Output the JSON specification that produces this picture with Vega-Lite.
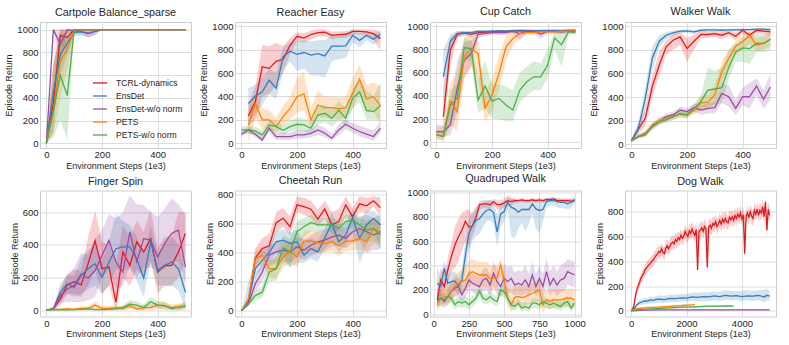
{
"$schema": "https://vega.github.io/schema/vega-lite/v6.json",
"padding": {"left": 4, "top": 5, "right": 0, "bottom": 0},
"background": "white",
"columns": 4,
"bounds": "flush",
"spacing": {"row": 42.5, "column": 44},
"resolve": {"scale": {"x": "independent", "y": "independent", "color": "independent"}, "legend": {"color": "independent"}},
"config": {
"font": "Liberation Sans",
"view": {"stroke": "#cccccc", "strokeWidth": 1},
"axis": {"grid": true, "gridColor": "#dddddd", "gridWidth": 1, "domain": false, "ticks": false, "labelOverlap": false, "labelFontSize": 9.5, "labelColor": "#262626", "labelPadding": 2, "titleFontSize": 9, "titleFontWeight": "normal", "titleColor": "#262626", "titlePadding": 3, "labelFont": "Liberation Sans", "titleFont": "Liberation Sans"},
"axisX": {"labelPadding": 1.5, "titlePadding": 2},
"title": {"fontSize": 10.8, "fontWeight": "normal", "color": "#262626", "offset": 4, "font": "Liberation Sans"},
"line": {"strokeWidth": 1.3, "clip": true},
"area": {"opacity": 0.22, "clip": true}
},
"datasets": {
"cp": [
{"s":"T","x":0,"y":0,"l":0,"h":0},{"s":"T","x":25,"y":350,"l":100,"h":700},{"s":"T","x":50,"y":950,"l":850,"h":1000},{"s":"T","x":75,"y":930,"l":820,"h":1000},{"s":"T","x":100,"y":1000,"l":985,"h":1000},{"s":"T","x":125,"y":1000,"l":1000,"h":1000},{"s":"T","x":200,"y":1000,"l":1000,"h":1000},{"s":"T","x":300,"y":1000,"l":1000,"h":1000},{"s":"T","x":400,"y":1000,"l":1000,"h":1000},{"s":"T","x":500,"y":1000,"l":1000,"h":1000},
{"s":"E","x":0,"y":0,"l":0,"h":0},{"s":"E","x":25,"y":450,"l":250,"h":700},{"s":"E","x":50,"y":780,"l":600,"h":950},{"s":"E","x":75,"y":880,"l":780,"h":980},{"s":"E","x":100,"y":975,"l":940,"h":1000},{"s":"E","x":125,"y":980,"l":950,"h":1000},{"s":"E","x":150,"y":965,"l":930,"h":1000},{"s":"E","x":175,"y":985,"l":960,"h":1000},{"s":"E","x":200,"y":1000,"l":1000,"h":1000},{"s":"E","x":300,"y":1000,"l":1000,"h":1000},{"s":"E","x":400,"y":1000,"l":1000,"h":1000},{"s":"E","x":500,"y":1000,"l":1000,"h":1000},
{"s":"N","x":0,"y":0,"l":0,"h":0},{"s":"N","x":25,"y":1000,"l":1000,"h":1000},{"s":"N","x":50,"y":870,"l":700,"h":1000},{"s":"N","x":75,"y":1000,"l":980,"h":1000},{"s":"N","x":100,"y":990,"l":960,"h":1000},{"s":"N","x":125,"y":985,"l":960,"h":1000},{"s":"N","x":150,"y":970,"l":930,"h":1000},{"s":"N","x":175,"y":985,"l":950,"h":1000},{"s":"N","x":200,"y":1000,"l":1000,"h":1000},{"s":"N","x":300,"y":1000,"l":1000,"h":1000},{"s":"N","x":400,"y":1000,"l":1000,"h":1000},{"s":"N","x":500,"y":1000,"l":1000,"h":1000},
{"s":"P","x":0,"y":0,"l":0,"h":0},{"s":"P","x":25,"y":290,"l":80,"h":700},{"s":"P","x":50,"y":720,"l":400,"h":1000},{"s":"P","x":75,"y":830,"l":650,"h":1000},{"s":"P","x":100,"y":1000,"l":980,"h":1000},{"s":"P","x":125,"y":1000,"l":1000,"h":1000},{"s":"P","x":200,"y":1000,"l":1000,"h":1000},{"s":"P","x":300,"y":1000,"l":1000,"h":1000},{"s":"P","x":400,"y":1000,"l":1000,"h":1000},{"s":"P","x":500,"y":1000,"l":1000,"h":1000},
{"s":"G","x":0,"y":0,"l":0,"h":0},{"s":"G","x":25,"y":280,"l":50,"h":550},{"s":"G","x":50,"y":600,"l":200,"h":1000},{"s":"G","x":75,"y":420,"l":30,"h":900},{"s":"G","x":100,"y":1000,"l":980,"h":1000},{"s":"G","x":125,"y":1000,"l":1000,"h":1000},{"s":"G","x":200,"y":1000,"l":1000,"h":1000},{"s":"G","x":300,"y":1000,"l":1000,"h":1000},{"s":"G","x":400,"y":1000,"l":1000,"h":1000},{"s":"G","x":500,"y":1000,"l":1000,"h":1000}
],
"re": [
{"s":"T","x":25,"y":233,"l":150,"h":330},{"s":"T","x":50,"y":355,"l":200,"h":480},{"s":"T","x":75,"y":653,"l":400,"h":840},{"s":"T","x":100,"y":640,"l":420,"h":830},{"s":"T","x":125,"y":700,"l":500,"h":860},{"s":"T","x":150,"y":718,"l":600,"h":830},{"s":"T","x":175,"y":838,"l":760,"h":900},{"s":"T","x":200,"y":915,"l":870,"h":950},{"s":"T","x":225,"y":900,"l":860,"h":940},{"s":"T","x":250,"y":930,"l":890,"h":965},{"s":"T","x":275,"y":946,"l":910,"h":975},{"s":"T","x":300,"y":950,"l":915,"h":975},{"s":"T","x":325,"y":923,"l":890,"h":955},{"s":"T","x":350,"y":929,"l":900,"h":955},{"s":"T","x":375,"y":932,"l":900,"h":960},{"s":"T","x":400,"y":957,"l":930,"h":975},{"s":"T","x":425,"y":957,"l":930,"h":975},{"s":"T","x":450,"y":952,"l":920,"h":975},{"s":"T","x":475,"y":937,"l":880,"h":970},{"s":"T","x":500,"y":895,"l":800,"h":960},
{"s":"E","x":25,"y":340,"l":180,"h":470},{"s":"E","x":50,"y":403,"l":250,"h":500},{"s":"E","x":75,"y":440,"l":330,"h":560},{"s":"E","x":100,"y":540,"l":420,"h":640},{"s":"E","x":125,"y":470,"l":380,"h":600},{"s":"E","x":150,"y":740,"l":620,"h":820},{"s":"E","x":175,"y":787,"l":700,"h":860},{"s":"E","x":200,"y":761,"l":620,"h":870},{"s":"E","x":225,"y":776,"l":640,"h":880},{"s":"E","x":250,"y":753,"l":580,"h":870},{"s":"E","x":275,"y":767,"l":580,"h":880},{"s":"E","x":300,"y":747,"l":560,"h":880},{"s":"E","x":325,"y":830,"l":700,"h":920},{"s":"E","x":350,"y":830,"l":720,"h":920},{"s":"E","x":375,"y":832,"l":730,"h":930},{"s":"E","x":400,"y":923,"l":860,"h":960},{"s":"E","x":425,"y":880,"l":820,"h":940},{"s":"E","x":450,"y":923,"l":880,"h":955},{"s":"E","x":475,"y":889,"l":840,"h":940},{"s":"E","x":500,"y":932,"l":900,"h":960},
{"s":"N","x":0,"y":77,"l":55,"h":100},{"s":"N","x":25,"y":114,"l":85,"h":140},{"s":"N","x":50,"y":77,"l":50,"h":100},{"s":"N","x":75,"y":28,"l":10,"h":50},{"s":"N","x":100,"y":128,"l":90,"h":160},{"s":"N","x":125,"y":57,"l":30,"h":90},{"s":"N","x":150,"y":57,"l":30,"h":90},{"s":"N","x":175,"y":57,"l":30,"h":90},{"s":"N","x":200,"y":71,"l":40,"h":110},{"s":"N","x":225,"y":71,"l":40,"h":110},{"s":"N","x":250,"y":85,"l":50,"h":120},{"s":"N","x":275,"y":114,"l":70,"h":160},{"s":"N","x":300,"y":85,"l":50,"h":130},{"s":"N","x":325,"y":43,"l":20,"h":80},{"s":"N","x":350,"y":114,"l":70,"h":160},{"s":"N","x":375,"y":162,"l":120,"h":200},{"s":"N","x":400,"y":128,"l":90,"h":170},{"s":"N","x":425,"y":100,"l":60,"h":150},{"s":"N","x":450,"y":77,"l":40,"h":130},{"s":"N","x":475,"y":57,"l":20,"h":110},{"s":"N","x":500,"y":128,"l":90,"h":180},
{"s":"P","x":25,"y":150,"l":0,"h":300},{"s":"P","x":50,"y":340,"l":220,"h":420},{"s":"P","x":75,"y":200,"l":120,"h":300},{"s":"P","x":100,"y":200,"l":130,"h":280},{"s":"P","x":125,"y":142,"l":80,"h":220},{"s":"P","x":150,"y":227,"l":150,"h":320},{"s":"P","x":175,"y":298,"l":200,"h":400},{"s":"P","x":200,"y":398,"l":260,"h":560},{"s":"P","x":225,"y":423,"l":280,"h":610},{"s":"P","x":250,"y":199,"l":120,"h":300},{"s":"P","x":275,"y":327,"l":220,"h":450},{"s":"P","x":300,"y":304,"l":220,"h":400},{"s":"P","x":325,"y":304,"l":220,"h":400},{"s":"P","x":350,"y":293,"l":200,"h":390},{"s":"P","x":375,"y":304,"l":220,"h":400},{"s":"P","x":400,"y":426,"l":300,"h":560},{"s":"P","x":425,"y":548,"l":420,"h":670},{"s":"P","x":450,"y":378,"l":260,"h":500},{"s":"P","x":475,"y":398,"l":280,"h":520},{"s":"P","x":500,"y":321,"l":150,"h":490},
{"s":"G","x":0,"y":114,"l":90,"h":140},{"s":"G","x":25,"y":114,"l":80,"h":150},{"s":"G","x":50,"y":105,"l":70,"h":140},{"s":"G","x":75,"y":71,"l":40,"h":110},{"s":"G","x":100,"y":156,"l":110,"h":200},{"s":"G","x":125,"y":142,"l":100,"h":190},{"s":"G","x":150,"y":110,"l":70,"h":150},{"s":"G","x":175,"y":142,"l":100,"h":190},{"s":"G","x":200,"y":162,"l":110,"h":220},{"s":"G","x":225,"y":156,"l":100,"h":210},{"s":"G","x":250,"y":128,"l":80,"h":180},{"s":"G","x":275,"y":241,"l":160,"h":320},{"s":"G","x":300,"y":256,"l":180,"h":330},{"s":"G","x":325,"y":213,"l":140,"h":290},{"s":"G","x":350,"y":284,"l":200,"h":360},{"s":"G","x":375,"y":213,"l":140,"h":300},{"s":"G","x":400,"y":384,"l":300,"h":470},{"s":"G","x":425,"y":440,"l":350,"h":540},{"s":"G","x":450,"y":280,"l":200,"h":450},{"s":"G","x":475,"y":270,"l":200,"h":400},{"s":"G","x":500,"y":321,"l":200,"h":520}
],
"cc": [
{"s":"T","x":25,"y":220,"l":100,"h":400},{"s":"T","x":50,"y":794,"l":650,"h":900},{"s":"T","x":75,"y":931,"l":900,"h":955},{"s":"T","x":100,"y":943,"l":920,"h":960},{"s":"T","x":125,"y":931,"l":905,"h":955},{"s":"T","x":150,"y":945,"l":925,"h":960},{"s":"T","x":175,"y":950,"l":935,"h":962},{"s":"T","x":200,"y":952,"l":938,"h":965},{"s":"T","x":225,"y":955,"l":940,"h":968},{"s":"T","x":250,"y":955,"l":940,"h":968},{"s":"T","x":275,"y":958,"l":945,"h":970},{"s":"T","x":300,"y":965,"l":950,"h":975},{"s":"T","x":325,"y":960,"l":945,"h":972},{"s":"T","x":350,"y":958,"l":945,"h":970},{"s":"T","x":375,"y":960,"l":945,"h":972},{"s":"T","x":400,"y":962,"l":948,"h":974},{"s":"T","x":425,"y":962,"l":948,"h":974},{"s":"T","x":450,"y":960,"l":945,"h":972},{"s":"T","x":475,"y":962,"l":948,"h":974},{"s":"T","x":500,"y":962,"l":948,"h":974},
{"s":"E","x":25,"y":565,"l":350,"h":800},{"s":"E","x":50,"y":871,"l":780,"h":930},{"s":"E","x":75,"y":937,"l":910,"h":960},{"s":"E","x":100,"y":945,"l":925,"h":960},{"s":"E","x":125,"y":945,"l":930,"h":960},{"s":"E","x":150,"y":957,"l":945,"h":968},{"s":"E","x":175,"y":955,"l":945,"h":965},{"s":"E","x":200,"y":958,"l":948,"h":968},{"s":"E","x":225,"y":960,"l":950,"h":970},{"s":"E","x":250,"y":958,"l":948,"h":968},{"s":"E","x":275,"y":962,"l":952,"h":972},{"s":"E","x":300,"y":960,"l":950,"h":970},{"s":"E","x":325,"y":962,"l":952,"h":972},{"s":"E","x":350,"y":960,"l":950,"h":970},{"s":"E","x":375,"y":962,"l":952,"h":972},{"s":"E","x":400,"y":962,"l":952,"h":972},{"s":"E","x":425,"y":963,"l":953,"h":973},{"s":"E","x":450,"y":963,"l":953,"h":973},{"s":"E","x":475,"y":965,"l":955,"h":975},{"s":"E","x":500,"y":965,"l":955,"h":975},
{"s":"N","x":0,"y":92,"l":60,"h":150},{"s":"N","x":25,"y":92,"l":50,"h":140},{"s":"N","x":50,"y":149,"l":60,"h":330},{"s":"N","x":75,"y":464,"l":250,"h":700},{"s":"N","x":100,"y":708,"l":560,"h":860},{"s":"N","x":125,"y":765,"l":650,"h":880},{"s":"N","x":150,"y":931,"l":900,"h":955},{"s":"N","x":175,"y":937,"l":915,"h":955},{"s":"N","x":200,"y":946,"l":925,"h":962},{"s":"N","x":225,"y":946,"l":925,"h":962},{"s":"N","x":250,"y":946,"l":925,"h":962},{"s":"N","x":275,"y":957,"l":940,"h":970},{"s":"N","x":300,"y":937,"l":880,"h":970},{"s":"N","x":325,"y":957,"l":940,"h":970},{"s":"N","x":350,"y":957,"l":940,"h":970},{"s":"N","x":375,"y":931,"l":890,"h":960},{"s":"N","x":400,"y":957,"l":940,"h":970},{"s":"N","x":425,"y":957,"l":940,"h":970},{"s":"N","x":450,"y":951,"l":935,"h":965},{"s":"N","x":475,"y":957,"l":940,"h":970},{"s":"N","x":500,"y":960,"l":945,"h":972},
{"s":"P","x":0,"y":63,"l":30,"h":100},{"s":"P","x":25,"y":49,"l":0,"h":150},{"s":"P","x":50,"y":355,"l":150,"h":500},{"s":"P","x":75,"y":264,"l":100,"h":600},{"s":"P","x":100,"y":736,"l":550,"h":900},{"s":"P","x":125,"y":808,"l":650,"h":920},{"s":"P","x":150,"y":765,"l":550,"h":900},{"s":"P","x":175,"y":292,"l":170,"h":420},{"s":"P","x":200,"y":407,"l":270,"h":550},{"s":"P","x":225,"y":593,"l":450,"h":750},{"s":"P","x":250,"y":822,"l":700,"h":920},{"s":"P","x":275,"y":894,"l":830,"h":950},{"s":"P","x":300,"y":937,"l":900,"h":960},{"s":"P","x":325,"y":946,"l":930,"h":960},{"s":"P","x":350,"y":946,"l":930,"h":960},{"s":"P","x":375,"y":951,"l":935,"h":965},{"s":"P","x":400,"y":951,"l":935,"h":965},{"s":"P","x":425,"y":951,"l":935,"h":965},{"s":"P","x":450,"y":957,"l":940,"h":970},{"s":"P","x":475,"y":957,"l":940,"h":970},{"s":"P","x":500,"y":966,"l":950,"h":975},
{"s":"G","x":0,"y":63,"l":30,"h":100},{"s":"G","x":25,"y":49,"l":20,"h":90},{"s":"G","x":50,"y":321,"l":150,"h":450},{"s":"G","x":75,"y":378,"l":300,"h":500},{"s":"G","x":100,"y":817,"l":700,"h":900},{"s":"G","x":125,"y":808,"l":700,"h":880},{"s":"G","x":150,"y":364,"l":250,"h":550},{"s":"G","x":175,"y":484,"l":300,"h":700},{"s":"G","x":200,"y":355,"l":200,"h":500},{"s":"G","x":225,"y":378,"l":200,"h":500},{"s":"G","x":250,"y":321,"l":180,"h":480},{"s":"G","x":275,"y":278,"l":180,"h":450},{"s":"G","x":300,"y":450,"l":350,"h":600},{"s":"G","x":325,"y":521,"l":400,"h":650},{"s":"G","x":350,"y":564,"l":450,"h":700},{"s":"G","x":375,"y":564,"l":450,"h":680},{"s":"G","x":400,"y":665,"l":550,"h":800},{"s":"G","x":425,"y":900,"l":800,"h":950},{"s":"G","x":450,"y":842,"l":650,"h":950},{"s":"G","x":475,"y":951,"l":930,"h":965},{"s":"G","x":500,"y":943,"l":930,"h":960}
],
"ww": [
{"s":"T","x":0,"y":28,"l":20,"h":40},{"s":"T","x":25,"y":127,"l":90,"h":170},{"s":"T","x":50,"y":220,"l":150,"h":300},{"s":"T","x":75,"y":487,"l":400,"h":580},{"s":"T","x":100,"y":670,"l":580,"h":780},{"s":"T","x":125,"y":825,"l":760,"h":880},{"s":"T","x":150,"y":882,"l":800,"h":930},{"s":"T","x":175,"y":910,"l":840,"h":950},{"s":"T","x":200,"y":811,"l":700,"h":900},{"s":"T","x":225,"y":873,"l":800,"h":930},{"s":"T","x":250,"y":930,"l":900,"h":955},{"s":"T","x":275,"y":930,"l":900,"h":955},{"s":"T","x":300,"y":938,"l":910,"h":960},{"s":"T","x":325,"y":924,"l":890,"h":950},{"s":"T","x":350,"y":946,"l":920,"h":965},{"s":"T","x":375,"y":915,"l":880,"h":945},{"s":"T","x":400,"y":966,"l":940,"h":980},{"s":"T","x":425,"y":924,"l":890,"h":950},{"s":"T","x":450,"y":966,"l":940,"h":980},{"s":"T","x":475,"y":958,"l":930,"h":975},{"s":"T","x":500,"y":952,"l":920,"h":970},
{"s":"E","x":0,"y":28,"l":20,"h":40},{"s":"E","x":25,"y":135,"l":80,"h":190},{"s":"E","x":50,"y":389,"l":300,"h":480},{"s":"E","x":75,"y":727,"l":620,"h":830},{"s":"E","x":100,"y":873,"l":820,"h":920},{"s":"E","x":125,"y":924,"l":890,"h":950},{"s":"E","x":150,"y":944,"l":920,"h":965},{"s":"E","x":175,"y":958,"l":940,"h":970},{"s":"E","x":200,"y":961,"l":945,"h":972},{"s":"E","x":225,"y":952,"l":935,"h":968},{"s":"E","x":250,"y":966,"l":950,"h":975},{"s":"E","x":275,"y":969,"l":955,"h":978},{"s":"E","x":300,"y":969,"l":955,"h":978},{"s":"E","x":325,"y":966,"l":950,"h":975},{"s":"E","x":350,"y":969,"l":955,"h":978},{"s":"E","x":375,"y":969,"l":955,"h":978},{"s":"E","x":400,"y":972,"l":960,"h":980},{"s":"E","x":425,"y":972,"l":960,"h":980},{"s":"E","x":450,"y":975,"l":965,"h":982},{"s":"E","x":475,"y":975,"l":965,"h":982},{"s":"E","x":500,"y":972,"l":960,"h":980},
{"s":"N","x":0,"y":28,"l":20,"h":40},{"s":"N","x":25,"y":65,"l":50,"h":80},{"s":"N","x":50,"y":93,"l":75,"h":115},{"s":"N","x":75,"y":149,"l":125,"h":175},{"s":"N","x":100,"y":192,"l":165,"h":220},{"s":"N","x":125,"y":234,"l":205,"h":260},{"s":"N","x":150,"y":248,"l":220,"h":275},{"s":"N","x":175,"y":290,"l":260,"h":320},{"s":"N","x":200,"y":276,"l":245,"h":305},{"s":"N","x":225,"y":310,"l":275,"h":345},{"s":"N","x":250,"y":290,"l":250,"h":330},{"s":"N","x":275,"y":304,"l":260,"h":350},{"s":"N","x":300,"y":310,"l":260,"h":360},{"s":"N","x":325,"y":431,"l":350,"h":520},{"s":"N","x":350,"y":403,"l":320,"h":500},{"s":"N","x":375,"y":304,"l":250,"h":380},{"s":"N","x":400,"y":403,"l":330,"h":480},{"s":"N","x":425,"y":403,"l":300,"h":520},{"s":"N","x":450,"y":493,"l":420,"h":560},{"s":"N","x":475,"y":380,"l":300,"h":460},{"s":"N","x":500,"y":485,"l":380,"h":600},
{"s":"P","x":0,"y":28,"l":20,"h":40},{"s":"P","x":25,"y":65,"l":50,"h":80},{"s":"P","x":50,"y":85,"l":65,"h":105},{"s":"P","x":75,"y":163,"l":140,"h":185},{"s":"P","x":100,"y":197,"l":170,"h":225},{"s":"P","x":125,"y":220,"l":195,"h":245},{"s":"P","x":150,"y":234,"l":205,"h":260},{"s":"P","x":175,"y":262,"l":235,"h":290},{"s":"P","x":200,"y":248,"l":220,"h":275},{"s":"P","x":225,"y":290,"l":255,"h":325},{"s":"P","x":250,"y":350,"l":290,"h":410},{"s":"P","x":275,"y":356,"l":290,"h":420},{"s":"P","x":300,"y":417,"l":340,"h":500},{"s":"P","x":325,"y":614,"l":530,"h":700},{"s":"P","x":350,"y":727,"l":650,"h":800},{"s":"P","x":375,"y":831,"l":760,"h":880},{"s":"P","x":400,"y":868,"l":800,"h":930},{"s":"P","x":425,"y":924,"l":850,"h":960},{"s":"P","x":450,"y":839,"l":790,"h":900},{"s":"P","x":475,"y":854,"l":800,"h":910},{"s":"P","x":500,"y":890,"l":830,"h":940},
{"s":"G","x":0,"y":28,"l":20,"h":40},{"s":"G","x":25,"y":65,"l":50,"h":80},{"s":"G","x":50,"y":79,"l":60,"h":100},{"s":"G","x":75,"y":149,"l":125,"h":175},{"s":"G","x":100,"y":192,"l":165,"h":220},{"s":"G","x":125,"y":206,"l":180,"h":235},{"s":"G","x":150,"y":234,"l":205,"h":260},{"s":"G","x":175,"y":254,"l":225,"h":285},{"s":"G","x":200,"y":248,"l":220,"h":275},{"s":"G","x":225,"y":304,"l":270,"h":340},{"s":"G","x":250,"y":361,"l":300,"h":420},{"s":"G","x":275,"y":459,"l":320,"h":650},{"s":"G","x":300,"y":468,"l":330,"h":620},{"s":"G","x":325,"y":479,"l":350,"h":650},{"s":"G","x":350,"y":648,"l":550,"h":800},{"s":"G","x":375,"y":783,"l":700,"h":850},{"s":"G","x":400,"y":817,"l":700,"h":900},{"s":"G","x":425,"y":811,"l":680,"h":920},{"s":"G","x":450,"y":854,"l":780,"h":930},{"s":"G","x":475,"y":854,"l":780,"h":930},{"s":"G","x":500,"y":890,"l":800,"h":940}
],
"fs": [
{"s":"T","x":0,"y":0,"l":0,"h":0},{"s":"T","x":25,"y":10,"l":0,"h":20},{"s":"T","x":50,"y":68,"l":30,"h":110},{"s":"T","x":75,"y":155,"l":100,"h":210},{"s":"T","x":100,"y":175,"l":100,"h":250},{"s":"T","x":125,"y":155,"l":80,"h":240},{"s":"T","x":150,"y":285,"l":150,"h":450},{"s":"T","x":175,"y":425,"l":250,"h":610},{"s":"T","x":200,"y":254,"l":100,"h":420},{"s":"T","x":225,"y":264,"l":150,"h":400},{"s":"T","x":250,"y":47,"l":0,"h":280},{"s":"T","x":275,"y":357,"l":200,"h":520},{"s":"T","x":300,"y":274,"l":150,"h":450},{"s":"T","x":325,"y":419,"l":250,"h":550},{"s":"T","x":350,"y":357,"l":200,"h":480},{"s":"T","x":375,"y":439,"l":300,"h":620},{"s":"T","x":400,"y":233,"l":100,"h":380},{"s":"T","x":425,"y":274,"l":150,"h":450},{"s":"T","x":450,"y":274,"l":150,"h":450},{"s":"T","x":475,"y":357,"l":200,"h":600},{"s":"T","x":500,"y":470,"l":300,"h":600},
{"s":"E","x":0,"y":0,"l":0,"h":0},{"s":"E","x":25,"y":10,"l":0,"h":20},{"s":"E","x":50,"y":109,"l":60,"h":160},{"s":"E","x":75,"y":161,"l":100,"h":220},{"s":"E","x":100,"y":140,"l":80,"h":210},{"s":"E","x":125,"y":212,"l":100,"h":320},{"s":"E","x":150,"y":254,"l":130,"h":370},{"s":"E","x":175,"y":285,"l":150,"h":400},{"s":"E","x":200,"y":202,"l":100,"h":300},{"s":"E","x":225,"y":295,"l":150,"h":420},{"s":"E","x":250,"y":377,"l":250,"h":594},{"s":"E","x":275,"y":388,"l":250,"h":550},{"s":"E","x":300,"y":388,"l":250,"h":520},{"s":"E","x":325,"y":315,"l":180,"h":450},{"s":"E","x":350,"y":196,"l":80,"h":350},{"s":"E","x":375,"y":419,"l":300,"h":520},{"s":"E","x":400,"y":243,"l":150,"h":350},{"s":"E","x":425,"y":274,"l":150,"h":400},{"s":"E","x":450,"y":295,"l":150,"h":450},{"s":"E","x":475,"y":254,"l":120,"h":400},{"s":"E","x":500,"y":109,"l":0,"h":250},
{"s":"N","x":0,"y":0,"l":0,"h":0},{"s":"N","x":25,"y":5,"l":0,"h":10},{"s":"N","x":50,"y":89,"l":40,"h":140},{"s":"N","x":75,"y":130,"l":50,"h":220},{"s":"N","x":100,"y":150,"l":50,"h":260},{"s":"N","x":125,"y":223,"l":50,"h":350},{"s":"N","x":150,"y":196,"l":60,"h":340},{"s":"N","x":175,"y":243,"l":80,"h":440},{"s":"N","x":200,"y":336,"l":200,"h":490},{"s":"N","x":225,"y":429,"l":250,"h":590},{"s":"N","x":250,"y":295,"l":130,"h":560},{"s":"N","x":275,"y":233,"l":150,"h":600},{"s":"N","x":300,"y":480,"l":274,"h":703},{"s":"N","x":325,"y":295,"l":200,"h":650},{"s":"N","x":350,"y":439,"l":260,"h":645},{"s":"N","x":375,"y":429,"l":260,"h":600},{"s":"N","x":400,"y":326,"l":254,"h":573},{"s":"N","x":425,"y":408,"l":250,"h":620},{"s":"N","x":450,"y":470,"l":300,"h":687},{"s":"N","x":475,"y":491,"l":300,"h":650},{"s":"N","x":500,"y":264,"l":171,"h":583},
{"s":"P","x":0,"y":0,"l":0,"h":0},{"s":"P","x":25,"y":5,"l":0,"h":10},{"s":"P","x":50,"y":5,"l":0,"h":12},{"s":"P","x":75,"y":8,"l":0,"h":18},{"s":"P","x":100,"y":5,"l":0,"h":15},{"s":"P","x":125,"y":10,"l":0,"h":25},{"s":"P","x":150,"y":10,"l":0,"h":25},{"s":"P","x":175,"y":31,"l":10,"h":55},{"s":"P","x":200,"y":10,"l":0,"h":25},{"s":"P","x":225,"y":10,"l":0,"h":25},{"s":"P","x":250,"y":16,"l":0,"h":35},{"s":"P","x":275,"y":10,"l":0,"h":25},{"s":"P","x":300,"y":27,"l":5,"h":50},{"s":"P","x":325,"y":6,"l":0,"h":20},{"s":"P","x":350,"y":16,"l":0,"h":35},{"s":"P","x":375,"y":16,"l":0,"h":35},{"s":"P","x":400,"y":31,"l":10,"h":55},{"s":"P","x":425,"y":27,"l":5,"h":50},{"s":"P","x":450,"y":16,"l":0,"h":35},{"s":"P","x":475,"y":21,"l":0,"h":40},{"s":"P","x":500,"y":27,"l":5,"h":50},
{"s":"G","x":0,"y":0,"l":0,"h":0},{"s":"G","x":25,"y":2,"l":0,"h":5},{"s":"G","x":50,"y":2,"l":0,"h":5},{"s":"G","x":75,"y":2,"l":0,"h":5},{"s":"G","x":100,"y":3,"l":0,"h":8},{"s":"G","x":125,"y":5,"l":0,"h":12},{"s":"G","x":150,"y":8,"l":0,"h":20},{"s":"G","x":175,"y":3,"l":0,"h":10},{"s":"G","x":200,"y":3,"l":0,"h":10},{"s":"G","x":225,"y":5,"l":0,"h":12},{"s":"G","x":250,"y":8,"l":0,"h":18},{"s":"G","x":275,"y":15,"l":0,"h":30},{"s":"G","x":300,"y":37,"l":15,"h":60},{"s":"G","x":325,"y":31,"l":10,"h":55},{"s":"G","x":350,"y":16,"l":0,"h":35},{"s":"G","x":375,"y":52,"l":25,"h":80},{"s":"G","x":400,"y":31,"l":10,"h":55},{"s":"G","x":425,"y":27,"l":5,"h":50},{"s":"G","x":450,"y":10,"l":0,"h":25},{"s":"G","x":475,"y":16,"l":0,"h":35},{"s":"G","x":500,"y":23,"l":5,"h":45}
],
"cr": [
{"s":"T","x":0,"y":0,"l":0,"h":0},{"s":"T","x":25,"y":58,"l":40,"h":80},{"s":"T","x":50,"y":364,"l":300,"h":430},{"s":"T","x":75,"y":429,"l":380,"h":500},{"s":"T","x":100,"y":448,"l":380,"h":530},{"s":"T","x":125,"y":608,"l":540,"h":680},{"s":"T","x":150,"y":638,"l":580,"h":710},{"s":"T","x":175,"y":580,"l":520,"h":650},{"s":"T","x":200,"y":731,"l":680,"h":790},{"s":"T","x":225,"y":719,"l":660,"h":780},{"s":"T","x":250,"y":701,"l":640,"h":760},{"s":"T","x":275,"y":633,"l":580,"h":700},{"s":"T","x":300,"y":703,"l":640,"h":760},{"s":"T","x":325,"y":592,"l":530,"h":680},{"s":"T","x":350,"y":615,"l":550,"h":700},{"s":"T","x":375,"y":731,"l":650,"h":790},{"s":"T","x":400,"y":650,"l":600,"h":710},{"s":"T","x":425,"y":738,"l":680,"h":790},{"s":"T","x":450,"y":724,"l":670,"h":780},{"s":"T","x":475,"y":759,"l":720,"h":790},{"s":"T","x":500,"y":712,"l":650,"h":780},
{"s":"E","x":0,"y":0,"l":0,"h":0},{"s":"E","x":25,"y":58,"l":40,"h":200},{"s":"E","x":50,"y":290,"l":230,"h":350},{"s":"E","x":75,"y":348,"l":290,"h":410},{"s":"E","x":100,"y":401,"l":330,"h":470},{"s":"E","x":125,"y":476,"l":400,"h":550},{"s":"E","x":150,"y":487,"l":380,"h":560},{"s":"E","x":175,"y":464,"l":300,"h":540},{"s":"E","x":200,"y":476,"l":330,"h":560},{"s":"E","x":225,"y":383,"l":330,"h":480},{"s":"E","x":250,"y":429,"l":360,"h":500},{"s":"E","x":275,"y":406,"l":340,"h":480},{"s":"E","x":300,"y":503,"l":430,"h":570},{"s":"E","x":325,"y":603,"l":480,"h":680},{"s":"E","x":350,"y":476,"l":400,"h":560},{"s":"E","x":375,"y":522,"l":450,"h":600},{"s":"E","x":400,"y":643,"l":560,"h":700},{"s":"E","x":425,"y":499,"l":325,"h":620},{"s":"E","x":450,"y":592,"l":450,"h":690},{"s":"E","x":475,"y":638,"l":560,"h":690},{"s":"E","x":500,"y":592,"l":430,"h":650},
{"s":"N","x":0,"y":0,"l":0,"h":0},{"s":"N","x":25,"y":46,"l":30,"h":60},{"s":"N","x":50,"y":186,"l":130,"h":240},{"s":"N","x":75,"y":267,"l":200,"h":330},{"s":"N","x":100,"y":383,"l":310,"h":450},{"s":"N","x":125,"y":406,"l":330,"h":470},{"s":"N","x":150,"y":418,"l":340,"h":490},{"s":"N","x":175,"y":406,"l":330,"h":480},{"s":"N","x":200,"y":441,"l":370,"h":510},{"s":"N","x":225,"y":418,"l":350,"h":490},{"s":"N","x":250,"y":452,"l":380,"h":520},{"s":"N","x":275,"y":476,"l":400,"h":550},{"s":"N","x":300,"y":487,"l":410,"h":560},{"s":"N","x":325,"y":510,"l":440,"h":580},{"s":"N","x":350,"y":522,"l":450,"h":600},{"s":"N","x":375,"y":499,"l":430,"h":570},{"s":"N","x":400,"y":545,"l":470,"h":620},{"s":"N","x":425,"y":568,"l":480,"h":650},{"s":"N","x":450,"y":545,"l":400,"h":660},{"s":"N","x":475,"y":522,"l":420,"h":640},{"s":"N","x":500,"y":545,"l":420,"h":660},
{"s":"P","x":0,"y":0,"l":0,"h":0},{"s":"P","x":25,"y":81,"l":60,"h":100},{"s":"P","x":50,"y":360,"l":300,"h":420},{"s":"P","x":75,"y":383,"l":320,"h":440},{"s":"P","x":100,"y":290,"l":230,"h":350},{"s":"P","x":125,"y":290,"l":220,"h":360},{"s":"P","x":150,"y":371,"l":300,"h":440},{"s":"P","x":175,"y":406,"l":330,"h":480},{"s":"P","x":200,"y":371,"l":300,"h":440},{"s":"P","x":225,"y":480,"l":410,"h":550},{"s":"P","x":250,"y":480,"l":410,"h":550},{"s":"P","x":275,"y":471,"l":400,"h":540},{"s":"P","x":300,"y":464,"l":400,"h":530},{"s":"P","x":325,"y":476,"l":410,"h":540},{"s":"P","x":350,"y":448,"l":380,"h":520},{"s":"P","x":375,"y":480,"l":410,"h":550},{"s":"P","x":400,"y":480,"l":420,"h":540},{"s":"P","x":425,"y":499,"l":420,"h":570},{"s":"P","x":450,"y":476,"l":400,"h":600},{"s":"P","x":475,"y":564,"l":460,"h":640},{"s":"P","x":500,"y":545,"l":480,"h":610},
{"s":"G","x":0,"y":0,"l":0,"h":0},{"s":"G","x":25,"y":46,"l":30,"h":60},{"s":"G","x":50,"y":104,"l":70,"h":140},{"s":"G","x":75,"y":128,"l":90,"h":170},{"s":"G","x":100,"y":267,"l":200,"h":340},{"s":"G","x":125,"y":290,"l":210,"h":380},{"s":"G","x":150,"y":434,"l":330,"h":520},{"s":"G","x":175,"y":406,"l":300,"h":500},{"s":"G","x":200,"y":545,"l":450,"h":620},{"s":"G","x":225,"y":580,"l":510,"h":640},{"s":"G","x":250,"y":610,"l":550,"h":660},{"s":"G","x":275,"y":592,"l":540,"h":640},{"s":"G","x":300,"y":592,"l":540,"h":640},{"s":"G","x":325,"y":592,"l":540,"h":640},{"s":"G","x":350,"y":568,"l":500,"h":630},{"s":"G","x":375,"y":615,"l":560,"h":660},{"s":"G","x":400,"y":626,"l":570,"h":670},{"s":"G","x":425,"y":592,"l":530,"h":650},{"s":"G","x":450,"y":557,"l":480,"h":620},{"s":"G","x":475,"y":568,"l":480,"h":640},{"s":"G","x":500,"y":522,"l":430,"h":600}
],
"qw": [
{"s":"T","x":25,"y":117,"l":60,"h":180},{"s":"T","x":50,"y":280,"l":150,"h":380},{"s":"T","x":75,"y":226,"l":150,"h":320},{"s":"T","x":100,"y":361,"l":250,"h":460},{"s":"T","x":125,"y":470,"l":350,"h":580},{"s":"T","x":150,"y":565,"l":380,"h":720},{"s":"T","x":175,"y":633,"l":430,"h":780},{"s":"T","x":200,"y":688,"l":520,"h":830},{"s":"T","x":225,"y":761,"l":600,"h":850},{"s":"T","x":250,"y":715,"l":560,"h":860},{"s":"T","x":275,"y":723,"l":640,"h":820},{"s":"T","x":300,"y":796,"l":720,"h":870},{"s":"T","x":325,"y":897,"l":860,"h":930},{"s":"T","x":350,"y":905,"l":870,"h":935},{"s":"T","x":375,"y":905,"l":870,"h":935},{"s":"T","x":400,"y":897,"l":860,"h":930},{"s":"T","x":425,"y":924,"l":900,"h":945},{"s":"T","x":450,"y":899,"l":860,"h":935},{"s":"T","x":475,"y":899,"l":860,"h":935},{"s":"T","x":500,"y":913,"l":880,"h":945},{"s":"T","x":525,"y":932,"l":880,"h":975},{"s":"T","x":550,"y":924,"l":890,"h":955},{"s":"T","x":575,"y":932,"l":910,"h":950},{"s":"T","x":600,"y":932,"l":915,"h":948},{"s":"T","x":625,"y":938,"l":920,"h":952},{"s":"T","x":650,"y":932,"l":915,"h":948},{"s":"T","x":675,"y":932,"l":915,"h":948},{"s":"T","x":700,"y":938,"l":920,"h":952},{"s":"T","x":725,"y":932,"l":915,"h":948},{"s":"T","x":750,"y":938,"l":920,"h":952},{"s":"T","x":775,"y":932,"l":915,"h":948},{"s":"T","x":800,"y":940,"l":925,"h":955},{"s":"T","x":825,"y":940,"l":925,"h":955},{"s":"T","x":850,"y":946,"l":930,"h":960},{"s":"T","x":875,"y":932,"l":915,"h":948},{"s":"T","x":900,"y":932,"l":915,"h":948},{"s":"T","x":925,"y":932,"l":915,"h":948},{"s":"T","x":950,"y":932,"l":915,"h":948},{"s":"T","x":975,"y":927,"l":910,"h":945},{"s":"T","x":1000,"y":932,"l":915,"h":948},
{"s":"E","x":25,"y":253,"l":150,"h":380},{"s":"E","x":50,"y":226,"l":140,"h":310},{"s":"E","x":75,"y":375,"l":290,"h":440},{"s":"E","x":100,"y":253,"l":170,"h":330},{"s":"E","x":125,"y":266,"l":180,"h":350},{"s":"E","x":150,"y":272,"l":190,"h":350},{"s":"E","x":175,"y":226,"l":150,"h":300},{"s":"E","x":200,"y":280,"l":200,"h":360},{"s":"E","x":225,"y":484,"l":350,"h":600},{"s":"E","x":250,"y":660,"l":520,"h":780},{"s":"E","x":275,"y":728,"l":600,"h":840},{"s":"E","x":300,"y":769,"l":640,"h":880},{"s":"E","x":325,"y":783,"l":660,"h":890},{"s":"E","x":350,"y":823,"l":720,"h":910},{"s":"E","x":375,"y":851,"l":760,"h":930},{"s":"E","x":400,"y":859,"l":770,"h":940},{"s":"E","x":425,"y":834,"l":740,"h":920},{"s":"E","x":450,"y":674,"l":550,"h":820},{"s":"E","x":475,"y":823,"l":720,"h":910},{"s":"E","x":500,"y":842,"l":760,"h":920},{"s":"E","x":525,"y":918,"l":860,"h":960},{"s":"E","x":550,"y":878,"l":640,"h":950},{"s":"E","x":575,"y":864,"l":620,"h":950},{"s":"E","x":600,"y":837,"l":700,"h":930},{"s":"E","x":625,"y":859,"l":750,"h":940},{"s":"E","x":650,"y":859,"l":680,"h":940},{"s":"E","x":675,"y":859,"l":740,"h":940},{"s":"E","x":700,"y":905,"l":820,"h":950},{"s":"E","x":725,"y":864,"l":700,"h":935},{"s":"E","x":750,"y":851,"l":660,"h":930},{"s":"E","x":775,"y":859,"l":760,"h":935},{"s":"E","x":800,"y":924,"l":880,"h":955},{"s":"E","x":825,"y":932,"l":890,"h":958},{"s":"E","x":850,"y":932,"l":890,"h":958},{"s":"E","x":875,"y":924,"l":880,"h":955},{"s":"E","x":900,"y":918,"l":870,"h":950},{"s":"E","x":925,"y":918,"l":870,"h":950},{"s":"E","x":950,"y":905,"l":860,"h":945},{"s":"E","x":975,"y":918,"l":870,"h":950},{"s":"E","x":1000,"y":940,"l":910,"h":960},
{"s":"N","x":25,"y":117,"l":60,"h":180},{"s":"N","x":50,"y":130,"l":70,"h":200},{"s":"N","x":75,"y":103,"l":50,"h":170},{"s":"N","x":100,"y":144,"l":80,"h":210},{"s":"N","x":125,"y":185,"l":120,"h":260},{"s":"N","x":150,"y":212,"l":140,"h":290},{"s":"N","x":175,"y":226,"l":150,"h":300},{"s":"N","x":200,"y":158,"l":90,"h":230},{"s":"N","x":225,"y":212,"l":140,"h":290},{"s":"N","x":250,"y":280,"l":200,"h":360},{"s":"N","x":275,"y":253,"l":180,"h":330},{"s":"N","x":300,"y":239,"l":160,"h":320},{"s":"N","x":325,"y":226,"l":150,"h":310},{"s":"N","x":350,"y":280,"l":190,"h":370},{"s":"N","x":375,"y":293,"l":200,"h":380},{"s":"N","x":400,"y":239,"l":150,"h":330},{"s":"N","x":425,"y":334,"l":230,"h":430},{"s":"N","x":450,"y":266,"l":160,"h":370},{"s":"N","x":475,"y":226,"l":140,"h":330},{"s":"N","x":500,"y":293,"l":170,"h":420},{"s":"N","x":525,"y":266,"l":160,"h":380},{"s":"N","x":550,"y":293,"l":180,"h":400},{"s":"N","x":575,"y":239,"l":150,"h":340},{"s":"N","x":600,"y":253,"l":160,"h":360},{"s":"N","x":625,"y":239,"l":150,"h":350},{"s":"N","x":650,"y":280,"l":170,"h":400},{"s":"N","x":675,"y":226,"l":140,"h":330},{"s":"N","x":700,"y":321,"l":200,"h":430},{"s":"N","x":725,"y":226,"l":140,"h":330},{"s":"N","x":750,"y":293,"l":180,"h":400},{"s":"N","x":775,"y":226,"l":140,"h":330},{"s":"N","x":800,"y":348,"l":230,"h":450},{"s":"N","x":825,"y":239,"l":150,"h":350},{"s":"N","x":850,"y":293,"l":190,"h":400},{"s":"N","x":875,"y":239,"l":150,"h":350},{"s":"N","x":900,"y":280,"l":180,"h":400},{"s":"N","x":925,"y":293,"l":190,"h":420},{"s":"N","x":950,"y":348,"l":240,"h":450},{"s":"N","x":975,"y":334,"l":230,"h":440},{"s":"N","x":1000,"y":321,"l":220,"h":430},
{"s":"P","x":25,"y":76,"l":30,"h":140},{"s":"P","x":50,"y":130,"l":60,"h":220},{"s":"P","x":75,"y":144,"l":80,"h":230},{"s":"P","x":100,"y":136,"l":70,"h":220},{"s":"P","x":125,"y":185,"l":110,"h":270},{"s":"P","x":150,"y":226,"l":150,"h":320},{"s":"P","x":175,"y":253,"l":170,"h":350},{"s":"P","x":200,"y":266,"l":180,"h":370},{"s":"P","x":225,"y":280,"l":190,"h":390},{"s":"P","x":250,"y":334,"l":230,"h":440},{"s":"P","x":275,"y":348,"l":240,"h":450},{"s":"P","x":300,"y":334,"l":230,"h":440},{"s":"P","x":325,"y":321,"l":220,"h":430},{"s":"P","x":350,"y":321,"l":220,"h":430},{"s":"P","x":375,"y":321,"l":220,"h":430},{"s":"P","x":400,"y":293,"l":200,"h":400},{"s":"P","x":425,"y":293,"l":200,"h":400},{"s":"P","x":450,"y":299,"l":210,"h":400},{"s":"P","x":475,"y":402,"l":330,"h":450},{"s":"P","x":500,"y":280,"l":200,"h":360},{"s":"P","x":525,"y":130,"l":60,"h":230},{"s":"P","x":550,"y":76,"l":20,"h":180},{"s":"P","x":575,"y":136,"l":60,"h":230},{"s":"P","x":600,"y":144,"l":70,"h":240},{"s":"P","x":625,"y":136,"l":60,"h":230},{"s":"P","x":650,"y":144,"l":70,"h":240},{"s":"P","x":675,"y":158,"l":80,"h":250},{"s":"P","x":700,"y":171,"l":90,"h":260},{"s":"P","x":725,"y":185,"l":100,"h":270},{"s":"P","x":750,"y":198,"l":110,"h":280},{"s":"P","x":775,"y":76,"l":10,"h":170},{"s":"P","x":800,"y":117,"l":50,"h":200},{"s":"P","x":825,"y":103,"l":40,"h":190},{"s":"P","x":850,"y":117,"l":50,"h":200},{"s":"P","x":875,"y":117,"l":50,"h":200},{"s":"P","x":900,"y":117,"l":50,"h":200},{"s":"P","x":925,"y":125,"l":60,"h":200},{"s":"P","x":950,"y":130,"l":60,"h":210},{"s":"P","x":975,"y":130,"l":60,"h":210},{"s":"P","x":1000,"y":117,"l":50,"h":200},
{"s":"G","x":25,"y":103,"l":60,"h":150},{"s":"G","x":50,"y":130,"l":90,"h":170},{"s":"G","x":75,"y":117,"l":80,"h":160},{"s":"G","x":100,"y":144,"l":100,"h":190},{"s":"G","x":125,"y":130,"l":90,"h":170},{"s":"G","x":150,"y":76,"l":40,"h":120},{"s":"G","x":175,"y":103,"l":60,"h":150},{"s":"G","x":200,"y":90,"l":50,"h":130},{"s":"G","x":225,"y":103,"l":60,"h":150},{"s":"G","x":250,"y":76,"l":40,"h":120},{"s":"G","x":275,"y":103,"l":60,"h":150},{"s":"G","x":300,"y":130,"l":90,"h":170},{"s":"G","x":325,"y":190,"l":140,"h":240},{"s":"G","x":350,"y":130,"l":90,"h":170},{"s":"G","x":375,"y":117,"l":80,"h":160},{"s":"G","x":400,"y":144,"l":100,"h":190},{"s":"G","x":425,"y":117,"l":80,"h":160},{"s":"G","x":450,"y":103,"l":60,"h":150},{"s":"G","x":475,"y":198,"l":150,"h":250},{"s":"G","x":500,"y":185,"l":140,"h":230},{"s":"G","x":525,"y":130,"l":90,"h":170},{"s":"G","x":550,"y":76,"l":40,"h":120},{"s":"G","x":575,"y":63,"l":30,"h":100},{"s":"G","x":600,"y":90,"l":50,"h":130},{"s":"G","x":625,"y":49,"l":20,"h":90},{"s":"G","x":650,"y":63,"l":30,"h":100},{"s":"G","x":675,"y":49,"l":20,"h":90},{"s":"G","x":700,"y":90,"l":50,"h":130},{"s":"G","x":725,"y":90,"l":50,"h":130},{"s":"G","x":750,"y":76,"l":40,"h":120},{"s":"G","x":775,"y":103,"l":60,"h":150},{"s":"G","x":800,"y":90,"l":50,"h":130},{"s":"G","x":825,"y":76,"l":40,"h":120},{"s":"G","x":850,"y":90,"l":50,"h":130},{"s":"G","x":875,"y":76,"l":40,"h":120},{"s":"G","x":900,"y":63,"l":30,"h":100},{"s":"G","x":925,"y":90,"l":50,"h":130},{"s":"G","x":950,"y":103,"l":60,"h":150},{"s":"G","x":975,"y":49,"l":20,"h":90},{"s":"G","x":1000,"y":90,"l":50,"h":130}
],
"dw": [
{"s":"T","x":0,"y":0,"l":0,"h":0},{"s":"T","x":50,"y":10,"l":0,"h":20},{"s":"T","x":100,"y":40,"l":20,"h":60},{"s":"T","x":150,"y":110,"l":80,"h":140},{"s":"T","x":200,"y":165,"l":130,"h":200},{"s":"T","x":250,"y":195,"l":160,"h":230},{"s":"T","x":300,"y":225,"l":185,"h":265},{"s":"T","x":350,"y":262,"l":220,"h":300},{"s":"T","x":400,"y":280,"l":235,"h":320},{"s":"T","x":450,"y":300,"l":255,"h":345},{"s":"T","x":500,"y":330,"l":285,"h":375},{"s":"T","x":550,"y":345,"l":300,"h":390},{"s":"T","x":600,"y":360,"l":315,"h":405},{"s":"T","x":650,"y":372,"l":325,"h":420},{"s":"T","x":700,"y":385,"l":340,"h":430},{"s":"T","x":750,"y":400,"l":350,"h":450},{"s":"T","x":800,"y":410,"l":360,"h":460},{"s":"T","x":850,"y":430,"l":380,"h":480},{"s":"T","x":900,"y":445,"l":395,"h":495},{"s":"T","x":950,"y":460,"l":410,"h":510},{"s":"T","x":1000,"y":478,"l":425,"h":530},{"s":"T","x":1050,"y":470,"l":420,"h":520},{"s":"T","x":1100,"y":500,"l":450,"h":550},{"s":"T","x":1150,"y":470,"l":420,"h":520},{"s":"T","x":1200,"y":462,"l":410,"h":515},{"s":"T","x":1250,"y":505,"l":455,"h":555},{"s":"T","x":1300,"y":525,"l":470,"h":580},{"s":"T","x":1350,"y":500,"l":450,"h":550},{"s":"T","x":1400,"y":520,"l":465,"h":575},{"s":"T","x":1450,"y":545,"l":490,"h":600},{"s":"T","x":1500,"y":555,"l":500,"h":610},{"s":"T","x":1550,"y":540,"l":485,"h":595},{"s":"T","x":1600,"y":575,"l":520,"h":630},{"s":"T","x":1650,"y":560,"l":505,"h":615},{"s":"T","x":1700,"y":590,"l":535,"h":645},{"s":"T","x":1750,"y":575,"l":520,"h":630},{"s":"T","x":1800,"y":610,"l":555,"h":665},{"s":"T","x":1850,"y":585,"l":530,"h":640},{"s":"T","x":1900,"y":600,"l":545,"h":655},{"s":"T","x":1950,"y":640,"l":585,"h":695},{"s":"T","x":2000,"y":615,"l":560,"h":670},{"s":"T","x":2050,"y":600,"l":545,"h":655},{"s":"T","x":2100,"y":645,"l":590,"h":700},{"s":"T","x":2150,"y":625,"l":570,"h":680},{"s":"T","x":2200,"y":660,"l":600,"h":720},{"s":"T","x":2250,"y":630,"l":570,"h":690},{"s":"T","x":2300,"y":610,"l":550,"h":670},{"s":"T","x":2350,"y":655,"l":595,"h":715},{"s":"T","x":2400,"y":330,"l":290,"h":640},{"s":"T","x":2450,"y":640,"l":580,"h":700},{"s":"T","x":2500,"y":650,"l":590,"h":710},{"s":"T","x":2550,"y":670,"l":610,"h":730},{"s":"T","x":2600,"y":640,"l":580,"h":700},{"s":"T","x":2650,"y":680,"l":620,"h":740},{"s":"T","x":2700,"y":660,"l":600,"h":720},{"s":"T","x":2750,"y":350,"l":310,"h":660},{"s":"T","x":2800,"y":675,"l":615,"h":735},{"s":"T","x":2850,"y":690,"l":630,"h":750},{"s":"T","x":2900,"y":665,"l":605,"h":725},{"s":"T","x":2950,"y":705,"l":645,"h":765},{"s":"T","x":3000,"y":690,"l":630,"h":750},{"s":"T","x":3050,"y":720,"l":660,"h":780},{"s":"T","x":3100,"y":680,"l":620,"h":740},{"s":"T","x":3150,"y":700,"l":640,"h":760},{"s":"T","x":3200,"y":730,"l":670,"h":790},{"s":"T","x":3250,"y":700,"l":640,"h":760},{"s":"T","x":3300,"y":740,"l":680,"h":800},{"s":"T","x":3350,"y":715,"l":655,"h":775},{"s":"T","x":3400,"y":745,"l":685,"h":805},{"s":"T","x":3450,"y":720,"l":660,"h":780},{"s":"T","x":3500,"y":710,"l":650,"h":770},{"s":"T","x":3550,"y":755,"l":695,"h":815},{"s":"T","x":3600,"y":735,"l":675,"h":795},{"s":"T","x":3650,"y":760,"l":700,"h":820},{"s":"T","x":3700,"y":730,"l":670,"h":790},{"s":"T","x":3750,"y":770,"l":710,"h":830},{"s":"T","x":3800,"y":745,"l":685,"h":805},{"s":"T","x":3850,"y":780,"l":720,"h":840},{"s":"T","x":3900,"y":755,"l":695,"h":815},{"s":"T","x":3950,"y":790,"l":730,"h":850},{"s":"T","x":4000,"y":740,"l":680,"h":800},{"s":"T","x":4050,"y":775,"l":715,"h":835},{"s":"T","x":4100,"y":460,"l":440,"h":760},{"s":"T","x":4150,"y":760,"l":700,"h":820},{"s":"T","x":4200,"y":790,"l":730,"h":850},{"s":"T","x":4250,"y":750,"l":690,"h":810},{"s":"T","x":4300,"y":800,"l":740,"h":860},{"s":"T","x":4350,"y":765,"l":705,"h":825},{"s":"T","x":4400,"y":745,"l":685,"h":805},{"s":"T","x":4450,"y":810,"l":750,"h":870},{"s":"T","x":4500,"y":780,"l":720,"h":840},{"s":"T","x":4550,"y":820,"l":760,"h":880},{"s":"T","x":4600,"y":770,"l":710,"h":830},{"s":"T","x":4650,"y":810,"l":750,"h":870},{"s":"T","x":4700,"y":790,"l":730,"h":850},{"s":"T","x":4750,"y":840,"l":770,"h":900},{"s":"T","x":4800,"y":760,"l":700,"h":820},{"s":"T","x":4850,"y":880,"l":820,"h":920},{"s":"T","x":4900,"y":650,"l":600,"h":720},{"s":"T","x":4950,"y":820,"l":750,"h":880},{"s":"T","x":5000,"y":770,"l":700,"h":840},
{"s":"E","x":0,"y":0,"l":0,"h":0},{"s":"E","x":100,"y":15,"l":5,"h":25},{"s":"E","x":200,"y":45,"l":30,"h":60},{"s":"E","x":300,"y":65,"l":45,"h":85},{"s":"E","x":400,"y":72,"l":50,"h":95},{"s":"E","x":500,"y":80,"l":55,"h":105},{"s":"E","x":600,"y":78,"l":55,"h":100},{"s":"E","x":700,"y":88,"l":60,"h":115},{"s":"E","x":800,"y":85,"l":60,"h":110},{"s":"E","x":900,"y":92,"l":65,"h":120},{"s":"E","x":1000,"y":95,"l":65,"h":125},{"s":"E","x":1200,"y":90,"l":65,"h":120},{"s":"E","x":1400,"y":100,"l":70,"h":130},{"s":"E","x":1600,"y":98,"l":70,"h":130},{"s":"E","x":1800,"y":105,"l":75,"h":135},{"s":"E","x":2000,"y":102,"l":75,"h":135},{"s":"E","x":2200,"y":112,"l":80,"h":145},{"s":"E","x":2400,"y":108,"l":75,"h":145},{"s":"E","x":2600,"y":115,"l":80,"h":150},{"s":"E","x":2800,"y":112,"l":80,"h":150},{"s":"E","x":3000,"y":120,"l":85,"h":155},{"s":"E","x":3200,"y":115,"l":80,"h":155},{"s":"E","x":3400,"y":125,"l":90,"h":165},{"s":"E","x":3600,"y":118,"l":85,"h":160},{"s":"E","x":3800,"y":122,"l":85,"h":160},{"s":"E","x":4000,"y":115,"l":80,"h":160},{"s":"E","x":4200,"y":120,"l":85,"h":165},{"s":"E","x":4400,"y":118,"l":80,"h":160},{"s":"E","x":4600,"y":125,"l":85,"h":165},{"s":"E","x":4800,"y":112,"l":70,"h":170},{"s":"E","x":4900,"y":125,"l":80,"h":180},{"s":"E","x":5000,"y":118,"l":85,"h":160},
{"s":"N","x":0,"y":0,"l":0,"h":0},{"s":"N","x":500,"y":6,"l":3,"h":9},{"s":"N","x":1000,"y":7,"l":4,"h":10},{"s":"N","x":2000,"y":8,"l":5,"h":11},{"s":"N","x":3000,"y":8,"l":5,"h":11},{"s":"N","x":4000,"y":7,"l":4,"h":10},{"s":"N","x":5000,"y":7,"l":4,"h":10},
{"s":"P","x":0,"y":0,"l":0,"h":0},{"s":"P","x":200,"y":18,"l":10,"h":26},{"s":"P","x":400,"y":22,"l":14,"h":30},{"s":"P","x":600,"y":25,"l":17,"h":33},{"s":"P","x":800,"y":28,"l":20,"h":36},{"s":"P","x":1000,"y":30,"l":22,"h":38},{"s":"P","x":1200,"y":33,"l":25,"h":41},{"s":"P","x":1400,"y":36,"l":28,"h":44},{"s":"P","x":1600,"y":40,"l":32,"h":48},{"s":"P","x":1800,"y":42,"l":34,"h":50},{"s":"P","x":2000,"y":45,"l":37,"h":53},{"s":"P","x":2200,"y":48,"l":40,"h":56},{"s":"P","x":2300,"y":50,"l":42,"h":58},
{"s":"G","x":0,"y":0,"l":0,"h":0},{"s":"G","x":200,"y":8,"l":4,"h":12},{"s":"G","x":500,"y":12,"l":7,"h":17},{"s":"G","x":800,"y":16,"l":10,"h":22},{"s":"G","x":1100,"y":20,"l":14,"h":26},{"s":"G","x":1400,"y":24,"l":18,"h":30},{"s":"G","x":1700,"y":27,"l":20,"h":34},{"s":"G","x":2000,"y":30,"l":23,"h":37},{"s":"G","x":2300,"y":32,"l":25,"h":39},{"s":"G","x":2600,"y":35,"l":28,"h":42},{"s":"G","x":2900,"y":37,"l":30,"h":44},{"s":"G","x":3200,"y":38,"l":31,"h":45},{"s":"G","x":3500,"y":40,"l":33,"h":47},{"s":"G","x":3700,"y":38,"l":31,"h":45}
]
},
"concat": [
{"title": "Cartpole Balance_sparse", "width": 151, "height": 126, "data": {"name": "cp"},
 "encoding": {"x": {"field": "x", "type": "quantitative", "title": "Environment Steps (1e3)", "scale": {"domain": [-23, 520], "nice": false, "zero": false}, "axis": {"values": [0, 200, 400], "format": "d"}},
   "color": {"field": "s", "type": "nominal", "scale": {"domain": ["T","E","N","P","G"], "range": ["#e41a1c","#377eb8","#984ea3","#ff7f00","#4daf4a"]},
    "legend": {"orient": "bottom-right", "offset": 8, "title": null, "symbolType": "stroke", "symbolStrokeWidth": 1.5, "symbolSize": 200, "symbolOpacity": 1, "labelFontSize": 8.6, "labelColor": "#262626", "labelOffset": 8, "rowPadding": -2.5, "padding": 0,
      "labelExpr": "datum.label == 'T' ? 'TCRL-dynamics' : datum.label == 'E' ? 'EnsDet' : datum.label == 'N' ? 'EnsDet-w/o norm' : datum.label == 'P' ? 'PETS' : 'PETS-w/o norm'"}}},
 "layer": [
  {"mark": "area", "encoding": {"y": {"field": "l", "type": "quantitative", "title": "Episode Return", "scale": {"domain": [-42, 1067], "nice": false, "zero": false}, "axis": {"values": [0, 200, 400, 600, 800, 1000], "format": "d", "labelOverlap": false}}, "y2": {"field": "h"}}},
  {"mark": "line", "encoding": {"y": {"field": "y", "type": "quantitative", "title": "Episode Return", "axis": {"values": [0, 200, 400, 600, 800, 1000], "format": "d", "labelOverlap": false}}}}
 ]},
{"title": "Reacher Easy", "width": 151, "height": 126, "data": {"name": "re"},
 "encoding": {"x": {"field": "x", "type": "quantitative", "title": "Environment Steps (1e3)", "scale": {"domain": [-23, 520], "nice": false, "zero": false}, "axis": {"values": [0, 200, 400], "format": "d"}},
   "color": {"field": "s", "type": "nominal", "scale": {"domain": ["T","E","N","P","G"], "range": ["#e41a1c","#377eb8","#984ea3","#ff7f00","#4daf4a"]}, "legend": null}},
 "layer": [
  {"mark": "area", "encoding": {"y": {"field": "l", "type": "quantitative", "title": "Episode Return", "scale": {"domain": [-41, 1037], "nice": false, "zero": false}, "axis": {"values": [0, 200, 400, 600, 800, 1000], "format": "d", "labelOverlap": false}}, "y2": {"field": "h"}}},
  {"mark": "line", "encoding": {"y": {"field": "y", "type": "quantitative", "title": "Episode Return", "axis": {"values": [0, 200, 400, 600, 800, 1000], "format": "d", "labelOverlap": false}}}}
 ]},
{"title": "Cup Catch", "width": 151, "height": 126, "data": {"name": "cc"},
 "encoding": {"x": {"field": "x", "type": "quantitative", "title": "Environment Steps (1e3)", "scale": {"domain": [-23, 520], "nice": false, "zero": false}, "axis": {"values": [0, 200, 400], "format": "d"}},
   "color": {"field": "s", "type": "nominal", "scale": {"domain": ["T","E","N","P","G"], "range": ["#e41a1c","#377eb8","#984ea3","#ff7f00","#4daf4a"]}, "legend": null}},
 "layer": [
  {"mark": "area", "encoding": {"y": {"field": "l", "type": "quantitative", "title": "Episode Return", "scale": {"domain": [-50, 1037], "nice": false, "zero": false}, "axis": {"values": [0, 200, 400, 600, 800, 1000], "format": "d", "labelOverlap": false}}, "y2": {"field": "h"}}},
  {"mark": "line", "encoding": {"y": {"field": "y", "type": "quantitative", "title": "Episode Return", "axis": {"values": [0, 200, 400, 600, 800, 1000], "format": "d", "labelOverlap": false}}}}
 ]},
{"title": "Walker Walk", "width": 151, "height": 126, "data": {"name": "ww"},
 "encoding": {"x": {"field": "x", "type": "quantitative", "title": "Environment Steps (1e3)", "scale": {"domain": [-23, 520], "nice": false, "zero": false}, "axis": {"values": [0, 200, 400], "format": "d"}},
   "color": {"field": "s", "type": "nominal", "scale": {"domain": ["T","E","N","P","G"], "range": ["#e41a1c","#377eb8","#984ea3","#ff7f00","#4daf4a"]}, "legend": null}},
 "layer": [
  {"mark": "area", "encoding": {"y": {"field": "l", "type": "quantitative", "title": "Episode Return", "scale": {"domain": [-32, 1036], "nice": false, "zero": false}, "axis": {"values": [0, 200, 400, 600, 800, 1000], "format": "d", "labelOverlap": false}}, "y2": {"field": "h"}}},
  {"mark": "line", "encoding": {"y": {"field": "y", "type": "quantitative", "title": "Episode Return", "axis": {"values": [0, 200, 400, 600, 800, 1000], "format": "d", "labelOverlap": false}}}}
 ]},
{"title": "Finger Spin", "width": 151, "height": 126, "data": {"name": "fs"},
 "encoding": {"x": {"field": "x", "type": "quantitative", "title": "Environment Steps (1e3)", "scale": {"domain": [-23, 520], "nice": false, "zero": false}, "axis": {"values": [0, 200, 400], "format": "d"}},
   "color": {"field": "s", "type": "nominal", "scale": {"domain": ["T","E","N","P","G"], "range": ["#e41a1c","#377eb8","#984ea3","#ff7f00","#4daf4a"]}, "legend": null}},
 "layer": [
  {"mark": "area", "encoding": {"y": {"field": "l", "type": "quantitative", "title": "Episode Return", "scale": {"domain": [-39, 734], "nice": false, "zero": false}, "axis": {"values": [0, 200, 400, 600], "format": "d", "labelOverlap": false}}, "y2": {"field": "h"}}},
  {"mark": "line", "encoding": {"y": {"field": "y", "type": "quantitative", "title": "Episode Return", "axis": {"values": [0, 200, 400, 600], "format": "d", "labelOverlap": false}}}}
 ]},
{"title": "Cheetah Run", "width": 151, "height": 126, "data": {"name": "cr"},
 "encoding": {"x": {"field": "x", "type": "quantitative", "title": "Environment Steps (1e3)", "scale": {"domain": [-23, 520], "nice": false, "zero": false}, "axis": {"values": [0, 200, 400], "format": "d"}},
   "color": {"field": "s", "type": "nominal", "scale": {"domain": ["T","E","N","P","G"], "range": ["#e41a1c","#377eb8","#984ea3","#ff7f00","#4daf4a"]}, "legend": null}},
 "layer": [
  {"mark": "area", "encoding": {"y": {"field": "l", "type": "quantitative", "title": "Episode Return", "scale": {"domain": [-40, 830], "nice": false, "zero": false}, "axis": {"values": [0, 200, 400, 600, 800], "format": "d", "labelOverlap": false}}, "y2": {"field": "h"}}},
  {"mark": "line", "encoding": {"y": {"field": "y", "type": "quantitative", "title": "Episode Return", "axis": {"values": [0, 200, 400, 600, 800], "format": "d", "labelOverlap": false}}}}
 ]},
{"title": "Quadruped Walk", "width": 151, "height": 126, "data": {"name": "qw"},
 "encoding": {"x": {"field": "x", "type": "quantitative", "title": "Environment Steps (1e3)", "scale": {"domain": [-26, 1045], "nice": false, "zero": false}, "axis": {"values": [0, 250, 500, 750, 1000], "format": "d"}},
   "color": {"field": "s", "type": "nominal", "scale": {"domain": ["T","E","N","P","G"], "range": ["#e41a1c","#377eb8","#984ea3","#ff7f00","#4daf4a"]}, "legend": null}},
 "layer": [
  {"mark": "area", "encoding": {"y": {"field": "l", "type": "quantitative", "title": "Episode Return", "scale": {"domain": [-20, 1015], "nice": false, "zero": false}, "axis": {"values": [0, 200, 400, 600, 800, 1000], "format": "d", "labelOverlap": false}}, "y2": {"field": "h"}}},
  {"mark": "line", "encoding": {"y": {"field": "y", "type": "quantitative", "title": "Episode Return", "axis": {"values": [0, 200, 400, 600, 800, 1000], "format": "d", "labelOverlap": false}}}}
 ]},
{"title": "Dog Walk", "width": 151, "height": 126, "data": {"name": "dw"},
 "encoding": {"x": {"field": "x", "type": "quantitative", "title": "Environment Steps (1e3)", "scale": {"domain": [-220, 5230], "nice": false, "zero": false}, "axis": {"values": [0, 2000, 4000], "format": "d"}},
   "color": {"field": "s", "type": "nominal", "scale": {"domain": ["T","E","N","P","G"], "range": ["#e41a1c","#377eb8","#984ea3","#ff7f00","#4daf4a"]}, "legend": null}},
 "layer": [
  {"mark": "area", "encoding": {"y": {"field": "l", "type": "quantitative", "title": "Episode Return", "scale": {"domain": [-46, 971], "nice": false, "zero": false}, "axis": {"values": [0, 200, 400, 600, 800], "format": "d", "labelOverlap": false}}, "y2": {"field": "h"}}},
  {"mark": "line", "encoding": {"y": {"field": "y", "type": "quantitative", "title": "Episode Return", "axis": {"values": [0, 200, 400, 600, 800], "format": "d", "labelOverlap": false}}}}
 ]}
]
}
